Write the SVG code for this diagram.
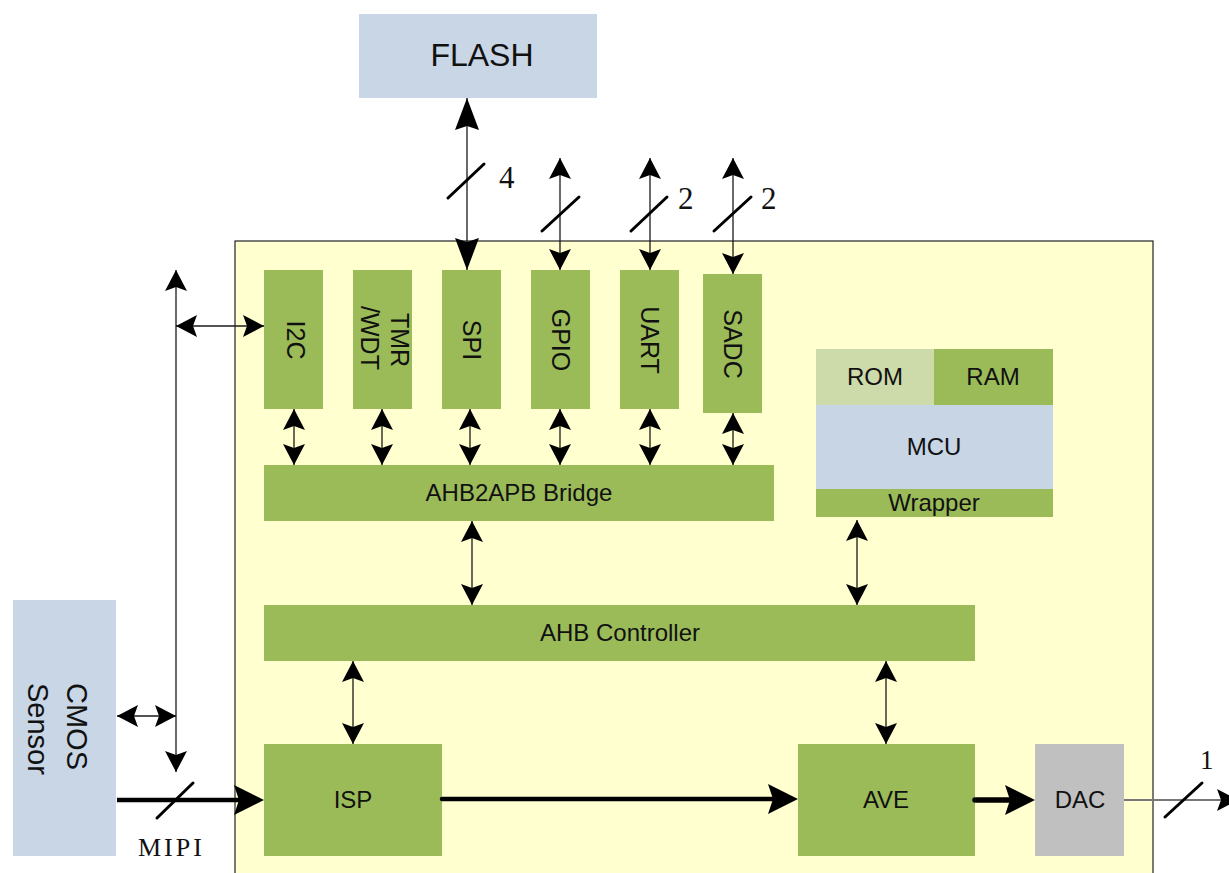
<svg xmlns="http://www.w3.org/2000/svg" width="1229" height="873" viewBox="0 0 1229 873">
<style>
.g{fill:#9bbb59}
.b{fill:#c8d6e6}
.t{font-family:"Liberation Sans",Arial,sans-serif;font-size:24px;fill:#111;text-anchor:middle}
.v{font-family:"Liberation Sans",Arial,sans-serif;font-size:25px;fill:#111;text-anchor:middle}
.n{font-family:"Liberation Serif","Times New Roman",serif;font-size:31px;fill:#111}
.ln{stroke:#1a1a1a;stroke-width:1.3;fill:none}
.th{stroke:#000;stroke-width:4.5;fill:none;stroke-linecap:round}
.sl{stroke:#000;stroke-width:3;stroke-linecap:round}
</style>
<defs>
<marker id="sm" viewBox="-24 -13 26 26" refX="0" refY="0" markerWidth="26" markerHeight="26" markerUnits="userSpaceOnUse" orient="auto-start-reverse">
<path d="M0,0 L-21,-11 L-17,0 L-21,11 Z" fill="#000"/>
</marker>
<marker id="big" viewBox="-36 -14 38 28" refX="0" refY="0" markerWidth="38" markerHeight="28" markerUnits="userSpaceOnUse" orient="auto-start-reverse">
<path d="M0,0 L-32,-12 L-28,0 L-32,12 Z" fill="#000"/>
</marker>
<marker id="thk" viewBox="-34 -16 46 32" refX="-8" refY="0" markerWidth="46" markerHeight="32" markerUnits="userSpaceOnUse" orient="auto">
<path d="M0,0 L-30,-15 L-25,0 L-30,15 Z" fill="#000"/>
</marker>
</defs>
<rect width="1229" height="873" fill="#fff"/>

<g id="chip">
<rect x="235" y="241" width="918" height="640" fill="#ffffd0" stroke="#222" stroke-width="1.2"/>
</g>

<g id="flash"><rect x="359" y="14" width="238" height="84" class="b"/><text x="482" y="66" class="t" style="font-size:32px">FLASH</text></g>

<g id="cmos"><rect x="13" y="600" width="103" height="256" class="b"/>
<g transform="translate(67,683) rotate(90)"><text x="0" y="0" style="font-family:'Liberation Sans',Arial,sans-serif;font-size:29px;fill:#111">CMOS</text><text x="0" y="39" style="font-family:'Liberation Sans',Arial,sans-serif;font-size:29px;fill:#111">Sensor</text></g>
</g>

<g id="i2c"><rect x="264" y="270" width="59" height="139" class="g"/><text transform="translate(287,340) rotate(90)" class="v">I2C</text></g>
<g id="tmr"><rect x="353" y="270" width="59" height="139" class="g"/><text transform="translate(391,340) rotate(90)" class="v">TMR</text><text transform="translate(361,338) rotate(90)" class="v">/WDT</text></g>
<g id="spi"><rect x="442" y="270" width="59" height="139" class="g"/><text transform="translate(463,340) rotate(90)" class="v">SPI</text></g>
<g id="gpio"><rect x="531" y="270" width="59" height="139" class="g"/><text transform="translate(552,340) rotate(90)" class="v">GPIO</text></g>
<g id="uart"><rect x="620" y="270" width="59" height="139" class="g"/><text transform="translate(641,340) rotate(90)" class="v">UART</text></g>
<g id="sadc"><rect x="703" y="274" width="59" height="139" class="g"/><text transform="translate(724,344) rotate(90)" class="v">SADC</text></g>

<g id="bridge"><rect x="264" y="465" width="510" height="56" class="g"/><text x="519" y="501" class="t">AHB2APB Bridge</text></g>

<g id="mcu">
<rect x="816" y="349" width="118" height="56" fill="#cddaa9"/><text x="875" y="385" class="t">ROM</text>
<rect x="934" y="349" width="119" height="56" class="g"/><text x="993" y="385" class="t">RAM</text>
<rect x="816" y="405" width="237" height="84" fill="#c7d5e5"/><text x="934" y="455" class="t">MCU</text>
<rect x="816" y="489" width="237" height="28" class="g"/><text x="934" y="511" class="t">Wrapper</text>
</g>

<g id="ahb"><rect x="264" y="605" width="711" height="56" class="g"/><text x="620" y="641" class="t">AHB Controller</text></g>
<g id="isp"><rect x="264" y="744" width="178" height="112" class="g"/><text x="353" y="808" class="t">ISP</text></g>
<g id="ave"><rect x="798" y="744" width="177" height="112" class="g"/><text x="886" y="808" class="t">AVE</text></g>
<g id="dac"><rect x="1035" y="744" width="89" height="112" fill="#c0c0c0"/><text x="1080" y="808" class="t">DAC</text></g>

<g id="connectors">
<line x1="467" y1="98" x2="467" y2="270" class="ln" marker-start="url(#big)" marker-end="url(#big)"/>
<line x1="448" y1="198" x2="484" y2="164" class="sl"/>
<text x="499" y="188" class="n">4</text>
<line x1="560" y1="158" x2="560" y2="270" class="ln" marker-start="url(#sm)" marker-end="url(#sm)"/>
<line x1="542" y1="231" x2="579" y2="197" class="sl"/>
<line x1="650" y1="158" x2="650" y2="270" class="ln" marker-start="url(#sm)" marker-end="url(#sm)"/>
<line x1="631" y1="231" x2="667" y2="197" class="sl"/>
<text x="678" y="209" class="n">2</text>
<line x1="733" y1="158" x2="733" y2="274" class="ln" marker-start="url(#sm)" marker-end="url(#sm)"/>
<line x1="714" y1="231" x2="751" y2="197" class="sl"/>
<text x="761" y="209" class="n">2</text>

<line x1="176" y1="270" x2="176" y2="772" class="ln" marker-start="url(#sm)" marker-end="url(#sm)"/>
<line x1="176" y1="326" x2="264" y2="326" class="ln" marker-start="url(#sm)" marker-end="url(#sm)"/>
<line x1="117" y1="716" x2="176" y2="716" class="ln" marker-start="url(#sm)" marker-end="url(#sm)"/>

<line x1="117" y1="800" x2="256" y2="800" class="th" style="stroke-linecap:butt" marker-end="url(#thk)"/>
<line x1="157" y1="818" x2="193" y2="783" class="sl"/>
<text x="138" y="856" style="font-family:'Liberation Serif','Times New Roman',serif;font-size:26px;fill:#111;letter-spacing:3px">MIPI</text>

<line x1="294" y1="409" x2="294" y2="465" class="ln" marker-start="url(#sm)" marker-end="url(#sm)"/>
<line x1="382" y1="409" x2="382" y2="465" class="ln" marker-start="url(#sm)" marker-end="url(#sm)"/>
<line x1="470" y1="409" x2="470" y2="465" class="ln" marker-start="url(#sm)" marker-end="url(#sm)"/>
<line x1="560" y1="409" x2="560" y2="465" class="ln" marker-start="url(#sm)" marker-end="url(#sm)"/>
<line x1="650" y1="409" x2="650" y2="465" class="ln" marker-start="url(#sm)" marker-end="url(#sm)"/>
<line x1="733" y1="413" x2="733" y2="465" class="ln" marker-start="url(#sm)" marker-end="url(#sm)"/>

<line x1="472" y1="521" x2="472" y2="605" class="ln" marker-start="url(#sm)" marker-end="url(#sm)"/>
<line x1="857" y1="520" x2="857" y2="605" class="ln" marker-start="url(#sm)" marker-end="url(#sm)"/>
<line x1="353" y1="661" x2="353" y2="744" class="ln" marker-start="url(#sm)" marker-end="url(#sm)"/>
<line x1="886" y1="661" x2="886" y2="744" class="ln" marker-start="url(#sm)" marker-end="url(#sm)"/>

<line x1="442" y1="799" x2="790" y2="799" class="th" marker-end="url(#thk)"/>
<line x1="975" y1="800" x2="1027" y2="800" class="th" style="stroke-width:5.5" marker-end="url(#thk)"/>

<line x1="1124" y1="800" x2="1238" y2="800" stroke="#777" stroke-width="2" marker-end="url(#sm)"/>
<line x1="1165" y1="817" x2="1202" y2="783" class="sl"/>
<text x="1200" y="769" class="n" style="font-size:27px">1</text>
</g>
</svg>
